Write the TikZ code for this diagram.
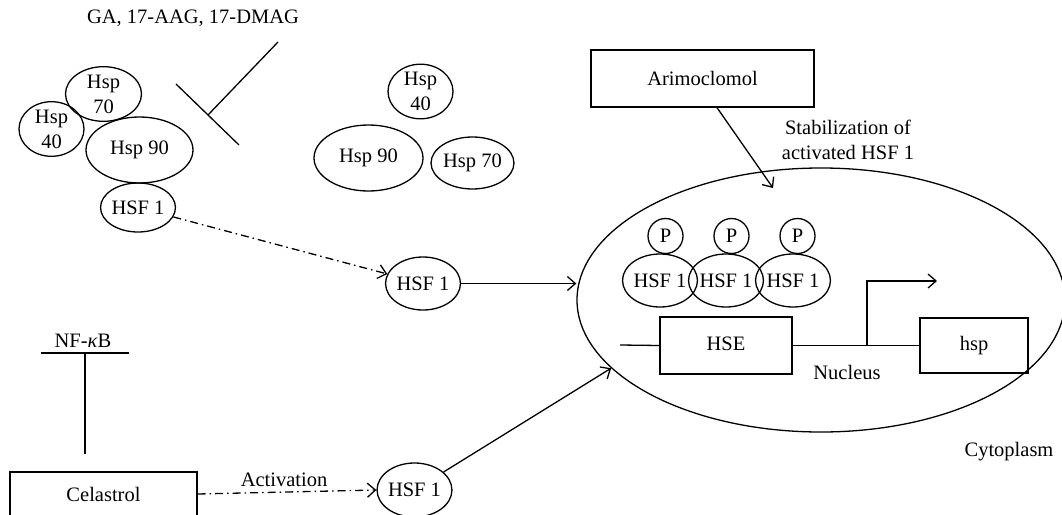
\documentclass[tikz,border=0pt]{standalone}
\usepackage{fontspec}
\setmainfont{Liberation Serif}
\usetikzlibrary{shapes.geometric,arrows.meta}
\tikzset{
  base/.style={line width=1.3pt},
  txt/.style={font=\fontsize{20.5}{25}\selectfont, inner sep=0pt, align=center},
  prot/.style={base, draw, ellipse, txt},
  box/.style={base, draw, rectangle, txt},
  arr/.style={base, -{Straight Barb[length=8pt,width=14pt,line width=1.3pt]}},
  dashdot/.style={dash pattern=on 8pt off 4pt on 1.5pt off 4pt},
  pcirc/.style={base, draw, circle, txt, minimum size=35pt},
}
\begin{document}
\begin{tikzpicture}[x=1pt,y=-1pt]
\useasboundingbox (0,0) rectangle (1062,514);

% top-left complex
\node[txt] (galabel) at (193,18) {GA, 17-AAG, 17-DMAG};
\node[prot, minimum width=76pt, minimum height=52pt] (hsp70a) at (103.5,94) {Hsp\\70};
\node[prot, minimum width=65pt, minimum height=54pt] (hsp40a) at (51.5,129) {Hsp\\40};
\node[prot, minimum width=107pt, minimum height=66pt] (hsp90a) at (139.5,150) {Hsp 90};
\node[prot, minimum width=62pt, minimum height=49pt] (hsfa) at (138,207.5) {HSF 1};

% inhibition T
\coordinate (gaA) at (278,42);
\coordinate (gaB) at (208,115);
\coordinate (barA) at (176,84);
\coordinate (barB) at (239,145);
\draw[base] (gaA) -- (gaB);
\draw[base] (barA) -- (barB);

% free chaperones
\node[prot, minimum width=65pt, minimum height=53pt] (hsp40b) at (420.5,91.5) {Hsp\\40};
\node[prot, minimum width=109pt, minimum height=66pt] (hsp90b) at (368.5,158) {Hsp 90};
\node[prot, minimum width=77pt, minimum height=52pt] (hsp70b) at (472.5,163) {Hsp 70};

% middle HSF1
\node[prot, minimum width=66pt, minimum height=53pt] (hsfb) at (423,283.5) {HSF 1};

% bottom
\node[txt] (nfkb) at (83,341) {NF-\textit{κ}B};
\coordinate (nfA) at (41,353);
\coordinate (nfB) at (129,353);
\coordinate (nfT) at (85,353);
\coordinate (nfS) at (85,454);
\draw[base] (nfA) -- (nfB);
\draw[base] (nfT) -- (nfS);

\node[box, minimum width=187pt, minimum height=44pt] (cel) at (103.5,494) {Celastrol};
\node[prot, minimum width=65pt, minimum height=54pt] (hsfc) at (414.5,490) {HSF 1};
\draw[arr, dashdot] (cel.east) -- (hsfc.west) node[midway, above=5pt, txt, xshift=-3pt] (act) {Activation};

% Arimoclomol
\node[box, minimum width=223pt, minimum height=57pt] (arim) at (702.5,78.5) {Arimoclomol};
\node[txt] (stabl) at (848,140) {Stabilization of\\activated HSF 1};

% nucleus
\node[base, draw, ellipse, minimum width=488pt, minimum height=264pt, inner sep=0pt] (nuc) at (821,300) {};
\node[txt] (nuclbl) at (847,372) {Nucleus};
\node[txt] (cyto) at (1009,452) {Cytoplasm};

\coordinate (stab) at (773,188);
\draw[arr] ([xshift=14.5pt]arim.south) -- (stab);

% trimer
\node[pcirc] (p1) at (665.5,236) {P};
\node[pcirc] (p2) at (731.5,236) {P};
\node[pcirc] (p3) at (797.5,236) {P};
\node[prot, minimum width=64pt, minimum height=53pt] (t1) at (660,280.5) {HSF 1};
\node[prot, minimum width=66pt, minimum height=53pt] (t2) at (726,280.5) {HSF 1};
\node[prot, minimum width=66pt, minimum height=53pt] (t3) at (793,280.5) {HSF 1};

% DNA
\node[box, minimum width=132pt, minimum height=57pt] (hse) at (726,345.5) {\raisebox{3pt}{HSE}};
\node[box, minimum width=108pt, minimum height=55pt] (hsp) at (974,345.5) {hsp};
\coordinate (dnaL) at (620,345);
\coordinate (tss) at (867,345);
\coordinate (tssT) at (867,281);
\coordinate (tssE) at (937,281);
\draw[base] (dnaL) -- (hse.west);
\draw[base] (hse.east) -- (hsp.west);
\draw[arr] (tss) -- (tssT) -- (tssE);

% connectors
\draw[arr, dashdot] (hsfa) -- (hsfb);
\draw[arr] (hsfb.east) -- (hsfb -| nuc.west);
\draw[arr] (hsfc) -- (nuc.198.5);
\end{tikzpicture}
\end{document}
